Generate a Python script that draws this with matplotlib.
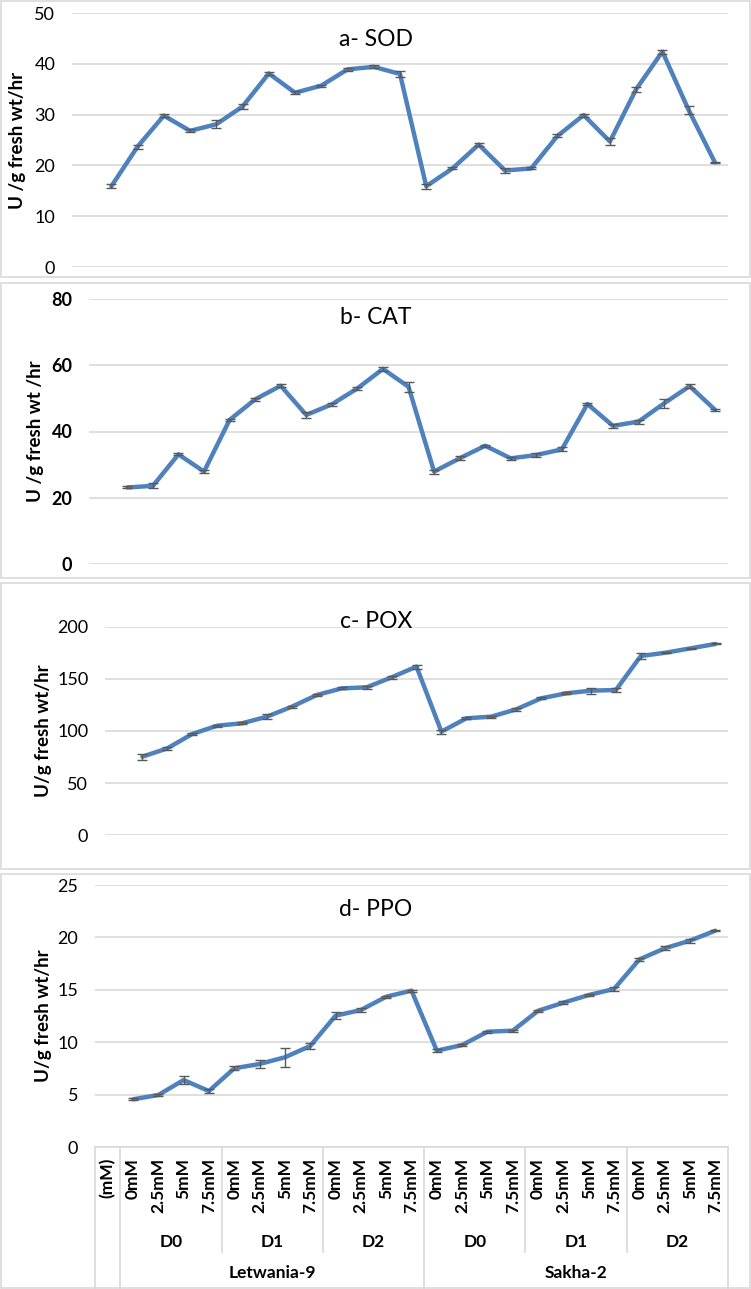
import numpy as np
import matplotlib
matplotlib.use("Agg")
import matplotlib.pyplot as plt
from matplotlib.transforms import blended_transform_factory
from matplotlib.patches import Rectangle

plt.rcParams["font.family"] = ["Lato", "DejaVu Sans"]

# x categories (first slot is the "(mM)" header, data sit in slots 1..24)
conc = ["(mM)"] + ["0mM", "2.5mM", "5mM", "7.5mM"] * 6
drought = ["D0", "D1", "D2", "D0", "D1", "D2"]
cultivars = ["Letwania-9", "Sakha-2"]

sod = [15.9, 23.7, 29.8, 26.8, 28.1, 31.6, 38.1, 34.3, 35.7, 38.9, 39.4, 38.0,
       15.9, 19.4, 24.1, 19.0, 19.4, 25.8, 29.9, 24.7, 35.0, 42.4, 30.9, 20.6]
sod_err = [0.4, 0.4, 0.3, 0.3, 0.8, 0.4, 0.3, 0.3, 0.2, 0.3, 0.3, 0.6,
           0.5, 0.2, 0.3, 0.4, 0.2, 0.3, 0.3, 0.6, 0.5, 0.4, 0.7, 0.1]

cat = [23.1, 23.6, 33.1, 27.9, 43.5, 49.7, 53.8, 45.0, 48.2, 53.0, 58.9, 53.5,
       27.9, 31.9, 35.7, 31.9, 32.9, 34.6, 48.3, 41.7, 43.0, 48.5, 53.7, 46.5]
cat_err = [0.3, 0.8, 0.3, 0.5, 0.4, 0.4, 0.4, 0.9, 0.5, 0.5, 0.6, 1.5,
           0.6, 0.6, 0.3, 0.5, 0.6, 0.6, 0.4, 0.6, 0.6, 1.4, 0.7, 0.2]

pox = [75.3, 83.3, 97.1, 105.1, 107.4, 113.8, 123.4, 134.6, 141.0, 142.0, 151.6, 161.9,
       99.4, 112.2, 113.8, 120.8, 131.4, 136.2, 138.8, 139.4, 172.1, 175.3, 179.5, 183.7]
pox_err = [3.0, 1.5, 1.0, 1.0, 1.0, 2.5, 1.0, 1.0, 1.0, 1.5, 1.5, 2.0,
           2.0, 1.0, 1.0, 1.5, 1.0, 1.0, 3.0, 1.5, 3.0, 0.5, 0.5, 0.5]

ppo = [4.55, 4.96, 6.39, 5.34, 7.51, 7.92, 8.56, 9.64, 12.53, 13.07, 14.34, 14.92,
       9.19, 9.73, 11.0, 11.1, 13.0, 13.77, 14.5, 15.08, 17.9, 18.96, 19.69, 20.64]
ppo_err = [0.1, 0.1, 0.4, 0.15, 0.2, 0.35, 0.9, 0.25, 0.35, 0.2, 0.1, 0.1,
           0.15, 0.1, 0.1, 0.1, 0.1, 0.15, 0.1, 0.15, 0.15, 0.2, 0.2, 0.05]

W, H = 751, 1289
fig = plt.figure(figsize=(W / 100, H / 100), dpi=100)
blue = "#4f81bd"
grey = "#d9d9d9"


def fy(p):
    return 1 - p / H


def px_axes(left, top, right, bottom):
    return fig.add_axes([left / W, fy(bottom), (right - left) / W, (bottom - top) / H])


# name, values, errors, ymax, step, axes box (l, t, r, b), panel box (t, b),
# ylabel, ylabel x, bold ticks, title y
panels = [
    ("a- SOD", sod, sod_err, 50, 10, (72, 13, 728, 267), (1, 277),
     "U /g fresh wt/hr", 18, False, 40),
    ("b- CAT", cat, cat_err, 80, 20, (89, 299, 728, 564), (283, 578),
     "U /g fresh wt /hr", 35, True, 317),
    ("c- POX", pox, pox_err, 200, 50, (105, 627, 728, 835), (583, 869),
     "U/g fresh wt/hr", 43, False, 621),
    ("d- PPO", ppo, ppo_err, 25, 5, (95, 885, 728, 1147), (874, 1288),
     "U/g fresh wt/hr", 43, False, 909),
]

x = np.arange(1, 25)
for k, (title, vals, errs, ymax, step, box, pbox, ylab, ylx, bold, ty) in enumerate(panels):
    fig.patches.append(Rectangle((1 / W, fy(pbox[1])), 749 / W, (pbox[1] - pbox[0]) / H,
                                 transform=fig.transFigure, fill=False, ec=grey, lw=1.2))
    ax = px_axes(*box)
    ax.set_xlim(-0.5, 24.5)
    ax.set_ylim(0, ymax)
    ax.set_yticks(np.arange(0, ymax + 1, step))
    ax.grid(axis="y", color=grey, lw=1.2)
    ax.set_axisbelow(True)
    for s in ax.spines.values():
        s.set_visible(False)
    ax.tick_params(axis="y", length=0, pad=12, labelsize=13)
    if bold:
        for t in ax.get_yticklabels():
            t.set_fontweight("bold")
    ax.plot(x, vals, color=blue, lw=3.2, solid_capstyle="round", solid_joinstyle="round", zorder=2)
    ax.errorbar(x, vals, yerr=errs, fmt="none", ecolor="#595959", elinewidth=1,
                capsize=3.5, capthick=1, zorder=3)

    fig.text(376 / W, fy(ty), title, ha="center", va="center", fontsize=16.5)
    ymid = (box[1] + box[3]) / 2
    fig.text(ylx / W, fy(ymid), ylab, rotation=90, ha="center", va="center",
             fontweight="bold", fontsize=13.5)

    if k < 3:
        ax.set_xticks([])
        continue

    # category table under the last panel
    ax.set_xticks(range(25))
    ax.set_xticklabels(conc, rotation=90, fontweight="bold", fontsize=12.5)
    ax.tick_params(axis="x", length=0, pad=8)
    tr = blended_transform_factory(ax.transData, fig.transFigure)
    ax.plot([-0.5, 24.5], [fy(1147), fy(1147)], transform=tr, clip_on=False, color=grey, lw=1.2)
    for xb in [-0.5, 0.5, 12.5, 24.5]:
        ax.plot([xb, xb], [fy(1147), fy(1288)], transform=tr, clip_on=False, color=grey, lw=1.2)
    for xb in [4.5, 8.5, 16.5, 20.5]:
        ax.plot([xb, xb], [fy(1147), fy(1252)], transform=tr, clip_on=False, color=grey, lw=1.2)
    for i, d in enumerate(drought):
        ax.text(2.5 + 4 * i, fy(1242), d, transform=tr, ha="center", va="center",
                fontweight="bold", fontsize=12.5)
    for i, c in enumerate(cultivars):
        ax.text(6.5 + 12 * i, fy(1273), c, transform=tr, ha="center", va="center",
                fontweight="bold", fontsize=12.5)

fig.savefig("out.png", dpi=100)
